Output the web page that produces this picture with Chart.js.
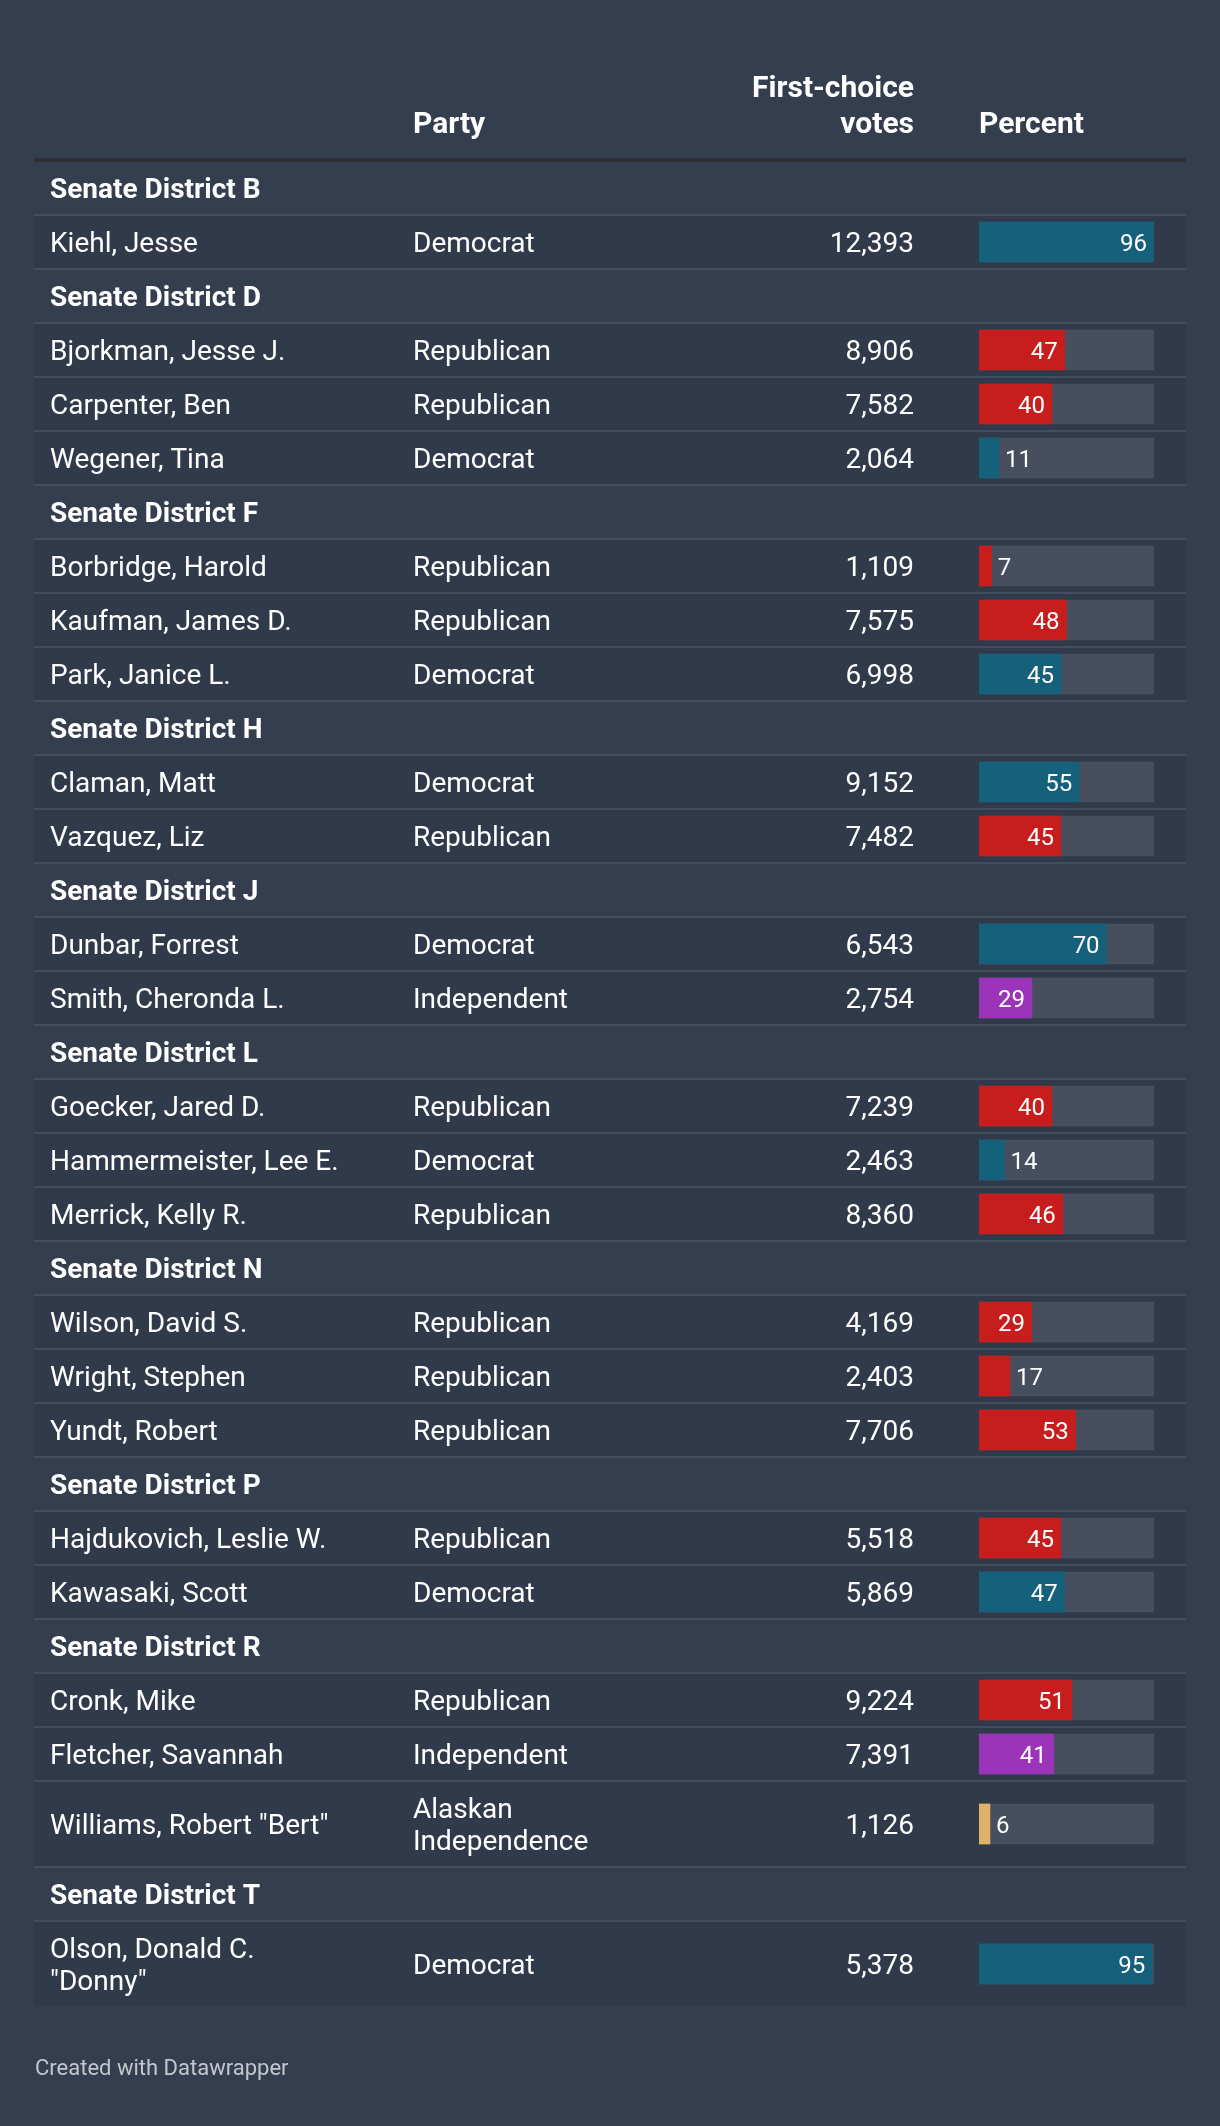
<!DOCTYPE html>
<html>
<head>
<meta charset="utf-8">
<script src="https://cdn.jsdelivr.net/npm/chart.js@4.4.1/dist/chart.umd.min.js"></script>
<style>
  html, body { margin: 0; padding: 0; background: #343e4f; }
  #wrap { width: 1220px; height: 2126px; }
</style>
</head>
<body>
<div id="wrap"><canvas id="c" width="1220" height="2126"></canvas></div>
<script>
// ---------- DATA ----------
const districts = ["B", "D", "F", "H", "J", "L", "N", "P", "R", "T"];
const candidates = [
  "Kiehl, Jesse", "Bjorkman, Jesse J.", "Carpenter, Ben", "Wegener, Tina",
  "Borbridge, Harold", "Kaufman, James D.", "Park, Janice L.",
  "Claman, Matt", "Vazquez, Liz", "Dunbar, Forrest", "Smith, Cheronda L.",
  "Goecker, Jared D.", "Hammermeister, Lee E.", "Merrick, Kelly R.",
  "Wilson, David S.", "Wright, Stephen", "Yundt, Robert",
  "Hajdukovich, Leslie W.", "Kawasaki, Scott",
  "Cronk, Mike", "Fletcher, Savannah", "Williams, Robert \"Bert\"",
  "Olson, Donald C. \"Donny\""
];
const candidateDistrict = [
  "B", "D", "D", "D", "F", "F", "F", "H", "H", "J", "J",
  "L", "L", "L", "N", "N", "N", "P", "P", "R", "R", "R", "T"
];
const parties = [
  "Democrat", "Republican", "Republican", "Democrat",
  "Republican", "Republican", "Democrat",
  "Democrat", "Republican", "Democrat", "Independent",
  "Republican", "Democrat", "Republican",
  "Republican", "Republican", "Republican",
  "Republican", "Democrat",
  "Republican", "Independent", "Alaskan Independence",
  "Democrat"
];
const votes = [
  12393, 8906, 7582, 2064, 1109, 7575, 6998, 9152, 7482, 6543, 2754,
  7239, 2463, 8360, 4169, 2403, 7706, 5518, 5869, 9224, 7391, 1126, 5378
];
const percents = [
  96, 47, 40, 11, 7, 48, 45, 55, 45, 70, 29,
  40, 14, 46, 29, 17, 53, 45, 47, 51, 41, 6, 95
];
const headers = ["", "Party", "First-choice votes", "Percent"];
const partyColors = {
  "Democrat": "#15607a",
  "Republican": "#c71e1d",
  "Independent": "#9b34b8",
  "Alaskan Independence": "#dfb26c"
};

// ---------- STYLE / LAYOUT ----------
const FONT = "Roboto, 'Noto Sans', sans-serif";
const BG = "#343e4f";
const ROW_BG = "#313a4a";
const SEP = "#434d5e";
const TRACK = "#474f5e";
const TEXT = "#ffffff";
const TL = 34, TR = 1186;
const X_NAME = 50, X_PARTY = 413, X_VOTES = 914, X_BAR = 979, BAR_END = 1154;
const HEADER_BOTTOM = 162;
const ROW_H = 54, LINE_H = 32;
const NAME_WRAP = 294, PARTY_WRAP = 200;

const mctx = document.createElement("canvas").getContext("2d");
function wrapText(text, font, maxW) {
  mctx.font = font;
  const words = text.split(" ");
  const lines = [];
  let cur = "";
  for (const w of words) {
    const t = cur ? cur + " " + w : w;
    if (cur && mctx.measureText(t).width > maxW) { lines.push(cur); cur = w; }
    else cur = t;
  }
  if (cur) lines.push(cur);
  return lines;
}

// build rows (offsets measured from the header rule)
const rows = [];
let cursorY = 0;
districts.forEach(d => {
  rows.push({ type: "district", label: "Senate District " + d, off: cursorY, h: ROW_H });
  cursorY += ROW_H;
  candidates.forEach((c, i) => {
    if (candidateDistrict[i] !== d) return;
    const nameLines = wrapText(c, "400 28px " + FONT, NAME_WRAP);
    const partyLines = wrapText(parties[i], "400 28px " + FONT, PARTY_WRAP);
    const n = Math.max(nameLines.length, partyLines.length);
    const h = ROW_H + LINE_H * (n - 1);
    rows.push({ type: "cand", idx: i, nameLines, partyLines, off: cursorY, h: h });
    cursorY += h;
  });
});
const tableHeight = cursorY;
rows.forEach(r => r.mid = r.off + (r.h - 2) / 2);
const candRows = rows.filter(r => r.type === "cand");
const maxPct = Math.max(...percents);

function drawLines(ctx, lines, x, center) {
  const n = lines.length;
  lines.forEach((ln, k) => {
    const cy = center + (k - (n - 1) / 2) * LINE_H;
    ctx.fillText(ln, x, cy + 10);
  });
}

const tablePlugin = {
  id: "tablePlugin",
  beforeDraw(chart) {
    const ctx = chart.ctx;
    const ys = chart.scales.y;
    const py = v => ys.getPixelForValue(v);
    ctx.save();
    ctx.fillStyle = BG;
    ctx.fillRect(0, 0, chart.width, chart.height);
    ctx.fillStyle = "#2f3134";
    ctx.fillRect(TL, py(0) - 4, TR - TL, 4);
    rows.forEach((r, k) => {
      const t = py(r.off), b = py(r.off + r.h);
      if (r.type === "cand") {
        ctx.fillStyle = ROW_BG;
        ctx.fillRect(TL, t, TR - TL, b - t - 2);
      }
      if (k < rows.length - 1) {
        ctx.fillStyle = SEP;
        ctx.fillRect(TL, b - 2, TR - TL, 2);
      }
    });
    ctx.fillStyle = TEXT;
    ctx.font = "700 30px " + FONT;
    ctx.textAlign = "left";
    ctx.fillText(headers[1], X_PARTY, 133);
    ctx.fillText(headers[3], X_BAR, 133);
    ctx.textAlign = "right";
    const vh = headers[2].split(" ");
    ctx.fillText(vh[0], X_VOTES, 97);
    ctx.fillText(vh[1], X_VOTES, 133);
    rows.forEach(r => {
      const c = py(r.mid);
      ctx.fillStyle = TEXT;
      if (r.type === "district") {
        ctx.font = "700 28px " + FONT;
        ctx.textAlign = "left";
        ctx.fillText(r.label, X_NAME, c + 10);
      } else {
        ctx.font = "400 28px " + FONT;
        ctx.textAlign = "left";
        drawLines(ctx, r.nameLines, X_NAME, c);
        drawLines(ctx, r.partyLines, X_PARTY, c);
        ctx.textAlign = "right";
        ctx.fillText(votes[r.idx].toLocaleString("en-US"), X_VOTES, c + 10);
      }
    });
    ctx.fillStyle = "#c3c7cd";
    ctx.font = "400 22px " + FONT;
    ctx.textAlign = "left";
    ctx.fillText("Created with Datawrapper", 35, 2075);
    ctx.restore();
  },
  afterDatasetsDraw(chart) {
    const ctx = chart.ctx;
    const meta = chart.getDatasetMeta(0);
    ctx.save();
    ctx.font = "400 24px " + FONT;
    ctx.fillStyle = TEXT;
    meta.data.forEach((bar, i) => {
      const label = String(percents[candRows[i].idx]);
      const w = ctx.measureText(label).width;
      const barW = bar.x - bar.base;
      if (barW >= w + 16) {
        ctx.textAlign = "right";
        ctx.fillText(label, bar.x - 7, bar.y + 8.5);
      } else {
        ctx.textAlign = "left";
        ctx.fillText(label, bar.x + 6, bar.y + 8.5);
      }
    });
    ctx.restore();
  }
};

new Chart(document.getElementById("c"), {
  type: "bar",
  data: {
    datasets: [
      {
        data: candRows.map(r => ({ x: percents[r.idx], y: r.mid })),
        backgroundColor: candRows.map(r => partyColors[parties[r.idx]]),
        barThickness: 40,
        grouped: false,
        borderWidth: 0
      },
      {
        data: candRows.map(r => ({ x: maxPct, y: r.mid })),
        backgroundColor: TRACK,
        barThickness: 40,
        grouped: false,
        borderWidth: 0
      }
    ]
  },
  options: {
    indexAxis: "y",
    responsive: false,
    animation: false,
    devicePixelRatio: 1,
    layout: { padding: { left: X_BAR, right: 1220 - BAR_END, top: HEADER_BOTTOM, bottom: 2126 - HEADER_BOTTOM - tableHeight } },
    scales: {
      x: { type: "linear", min: 0, max: maxPct, display: false, offset: false },
      y: { type: "linear", min: 0, max: tableHeight, reverse: true, display: false, offset: false }
    },
    plugins: { legend: { display: false }, tooltip: { enabled: false } },
    events: []
  },
  plugins: [tablePlugin]
});
</script>
</body>
</html>
